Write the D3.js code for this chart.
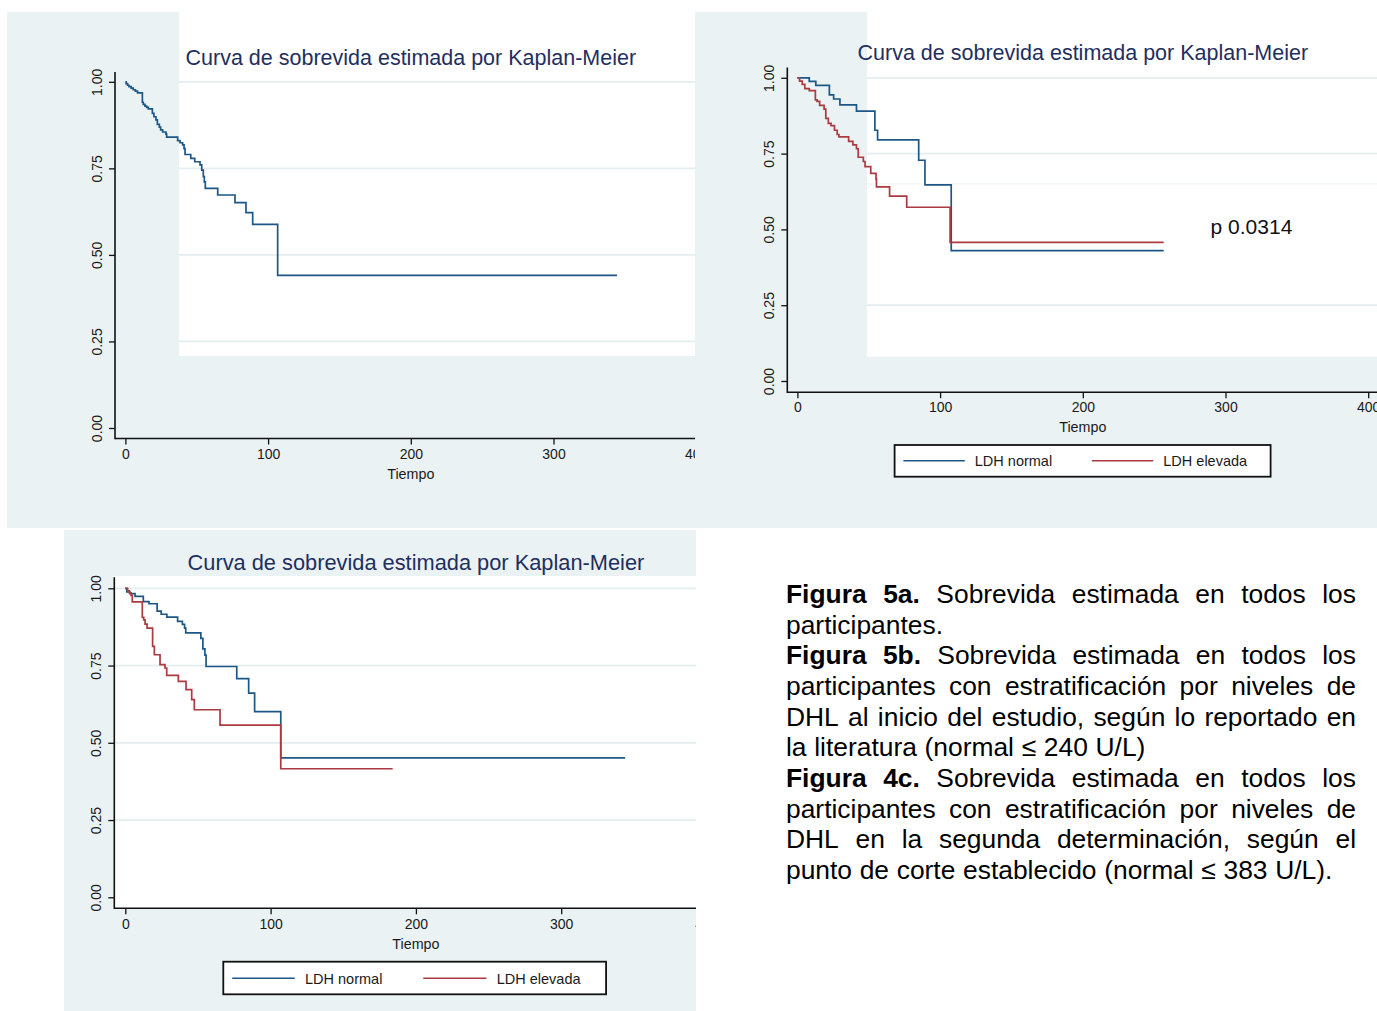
<!DOCTYPE html>
<html>
<head>
<meta charset="utf-8">
<script src="https://cdn.jsdelivr.net/npm/d3@7"></script>
<style>
  body { margin: 0; background: #fff; }
  svg { display: block; }
  text { font-family: "Liberation Sans", Arial, Helvetica, sans-serif; }
</style>
</head>
<body>
<svg id="fig" width="1377" height="1011"></svg>
<script>
// ---- axis ticks and labels ----
const xTickValues = [0, 100, 200, 300, 400];
const yTickValues = [0, 0.25, 0.5, 0.75, 1];
const yTickLabels = ["0.00", "0.25", "0.50", "0.75", "1.00"];
const chartTitle = "Curva de sobrevida estimada por Kaplan-Meier";
const xAxisTitle = "Tiempo";
const groupNames = ["LDH normal", "LDH elevada"];
const pValueText = "p 0.0314";

// ---- Kaplan-Meier estimates: event times and survival after each event ----
// 5a: all participants
const allTimes = [0.5, 1.5, 2.5, 4, 5.5, 7, 8.5, 11.9, 12.5, 13.7, 14.9, 16.1, 18.9, 20, 21.4, 22.4, 23.8, 24.7, 26.1, 28.4, 28.9,
  36.6, 38.3, 40.1, 41.1, 41.8, 45.8, 48.6, 52.3, 53.5, 54.6, 55.3, 56, 64.7, 76.8, 84.5, 89.2, 106.7];
const allSurv = [0.995, 0.99, 0.986, 0.982, 0.977, 0.973, 0.968, 0.941, 0.935, 0.930, 0.926, 0.922, 0.909, 0.899, 0.890, 0.877, 0.869, 0.861, 0.855, 0.849, 0.840,
  0.830, 0.824, 0.818, 0.807, 0.790, 0.779, 0.769, 0.760, 0.745, 0.726, 0.711, 0.692, 0.673, 0.651, 0.622, 0.588, 0.441];
const allLastTime = 344.5;

// 5b: LDH at baseline (normal <= 240 U/L)
const baseNormalTimes = [8.3, 12.9, 22.4, 25.4, 29.8, 41.4, 54.3, 56.2, 85, 89.4, 107.8];
const baseNormalSurv = [0.988, 0.975, 0.944, 0.930, 0.911, 0.890, 0.827, 0.795, 0.728, 0.647, 0.430];
const baseNormalLast = 256.7;
const baseHighTimes = [1.5, 3.4, 5.2, 8.3, 12.6, 13.8, 15.6, 18.7, 19.9, 21.7, 23.6, 26, 27.9, 29.1, 35.9, 38.9, 41.4, 42.6,
  46.2, 47.4, 51.4, 55.1, 55.4, 64.6, 76.6, 107];
const baseHighSurv = [0.989, 0.978, 0.964, 0.958, 0.927, 0.922, 0.909, 0.897, 0.866, 0.850, 0.842, 0.827, 0.813, 0.805, 0.790, 0.779, 0.766, 0.738,
  0.724, 0.707, 0.685, 0.666, 0.640, 0.610, 0.573, 0.457];
const baseHighLast = 256.7;

// 4c: LDH at second measurement (normal <= 383 U/L)
const secondNormalTimes = [1, 3.2, 6.7, 12.4, 16.3, 21.9, 24.7, 28.6, 36, 39.3, 40.8, 41.6, 52, 53.4, 54.8, 55.6, 76.7, 84.9, 89, 107];
const secondNormalSurv = [0.988, 0.983, 0.974, 0.957, 0.950, 0.926, 0.916, 0.907, 0.893, 0.883, 0.871, 0.856, 0.838, 0.804, 0.784, 0.747, 0.708, 0.661, 0.601, 0.451];
const secondNormalLast = 344;
const secondHighTimes = [1.6, 2.8, 3.9, 4.8, 11.7, 12.7, 13.6, 15, 18.8, 20, 23.9, 27.3, 28.5, 36.5, 41.8, 45.7, 47.5, 65.2, 107];
const secondHighSurv = [0.992, 0.985, 0.977, 0.956, 0.906, 0.898, 0.884, 0.871, 0.812, 0.785, 0.753, 0.742, 0.718, 0.699, 0.672, 0.640, 0.607, 0.557, 0.416];
const secondHighLast = 184;

// ---- caption ----
const captionLines = [
  "**Figura 5a.** Sobrevida estimada en todos los",
  "participantes.",
  "**Figura 5b.** Sobrevida estimada en todos los",
  "participantes con estratificación por niveles de",
  "DHL al inicio del estudio, según lo reportado en",
  "la literatura (normal ≤ 240 U/L)",
  "**Figura 4c.** Sobrevida estimada en todos los",
  "participantes con estratificación por niveles de",
  "DHL en la segunda determinación, según el",
  "punto de corte establecido (normal ≤ 383 U/L)."
];
const captionJustify = [true, false, true, true, true, false, true, true, true, false];

// ---- styling ----
const BG = "#eaf2f3";
const GRID = "#e4edef";
const BLUE = "#1d5786";
const RED = "#ab3a41";
const TITLE_COLOR = "#1f2f5e";

const svg = d3.select("#fig");
svg.append("rect").attr("width", 1377).attr("height", 1011).attr("fill", "#fff");

const panels = [
  {
    id: "a",
    bg: { x: 7, y: 12, w: 688, h: 516 },
    white: { x: 179, y: 12, w: 516, h: 344 },
    xr: [125.4, 696.2], yr: [428, 81.8],
    axisX: 115, axisTop: 72, axisY: 438.5,
    titleBase: 64.5, titleSize: 21.5, tickBase: 459, xTitleBase: 479,
    grid: [1, 0.75, 0.5, 0.25], faint: [],
    series: [{ t: allTimes, s: allSurv, last: allLastTime, color: BLUE }],
    legend: null
  },
  {
    id: "b",
    bg: { x: 695, y: 12, w: 682, h: 516 },
    white: { x: 867, y: 12, w: 510, h: 344.7 },
    xr: [797.4, 1368.2], yr: [381, 77.8],
    axisX: 787.3, axisTop: 67.6, axisY: 392.2,
    titleBase: 59.5, titleSize: 21.5, tickBase: 412.5, xTitleBase: 431.5,
    grid: [1, 0.75, 0.25], faint: [0.65],
    series: [
      { t: baseNormalTimes, s: baseNormalSurv, last: baseNormalLast, color: BLUE },
      { t: baseHighTimes, s: baseHighSurv, last: baseHighLast, color: RED }
    ],
    legend: { x: 894.6, y: 445, w: 376, h: 31.7, lineY: 460.8,
      items: [{ x1: 903.4, x2: 964.8, tx: 974.8 }, { x1: 1091.8, x2: 1153.2, tx: 1163.3 }] },
    pValue: { x: 1210.6, y: 234 }
  },
  {
    id: "c",
    bg: { x: 64, y: 530, w: 632, h: 481 },
    white: { x: 114.3, y: 576, w: 581.7, h: 332.3 },
    xr: [125.3, 706.5], yr: [897.3, 588.3],
    axisX: 114.3, axisTop: 577.3, axisY: 908.3,
    titleBase: 569.5, titleSize: 21.8, tickBase: 929, xTitleBase: 949,
    grid: [1, 0.75, 0.5, 0.25], faint: [],
    series: [
      { t: secondNormalTimes, s: secondNormalSurv, last: secondNormalLast, color: BLUE },
      { t: secondHighTimes, s: secondHighSurv, last: secondHighLast, color: RED }
    ],
    legend: { x: 223.3, y: 961.7, w: 382.8, h: 32.6, lineY: 978.3,
      items: [{ x1: 232.2, x2: 294.7, tx: 305 }, { x1: 423.3, x2: 486.5, tx: 496.7 }] }
  }
];

const defs = svg.append("defs");

panels.forEach(p => {
  defs.append("clipPath").attr("id", "clip-" + p.id)
    .append("rect").attr("x", p.bg.x).attr("y", p.bg.y).attr("width", p.bg.w).attr("height", p.bg.h);
  defs.append("clipPath").attr("id", "clipw-" + p.id)
    .append("rect").attr("x", p.white.x).attr("y", p.white.y).attr("width", p.white.w).attr("height", p.white.h);

  const g = svg.append("g").attr("clip-path", `url(#clip-${p.id})`);
  const x = d3.scaleLinear().domain([0, 400]).range(p.xr);
  const y = d3.scaleLinear().domain([0, 1]).range(p.yr);

  // backgrounds
  g.append("rect").attr("x", p.bg.x).attr("y", p.bg.y).attr("width", p.bg.w).attr("height", p.bg.h).attr("fill", BG);
  g.append("rect").attr("x", p.white.x).attr("y", p.white.y).attr("width", p.white.w).attr("height", p.white.h).attr("fill", "#fff");

  // grid lines inside the white plot area
  const gg = g.append("g").attr("clip-path", `url(#clipw-${p.id})`);
  gg.selectAll("line.grid").data(p.grid).join("line")
    .attr("x1", p.white.x).attr("x2", p.white.x + p.white.w)
    .attr("y1", d => y(d)).attr("y2", d => y(d))
    .attr("stroke", GRID).attr("stroke-width", 1.8);
  gg.selectAll("line.faint").data(p.faint).join("line")
    .attr("x1", p.white.x).attr("x2", p.white.x + p.white.w)
    .attr("y1", d => y(d)).attr("y2", d => y(d))
    .attr("stroke", "#f1f5f6").attr("stroke-width", 1.2);

  // title
  g.append("text").attr("x", (p.xr[0] + p.xr[1]) / 2).attr("y", p.titleBase)
    .attr("text-anchor", "middle").attr("font-size", p.titleSize).attr("fill", TITLE_COLOR)
    .text(chartTitle);

  // survival step curves
  const line = d3.line().x(d => x(d[0])).y(d => y(d[1])).curve(d3.curveStepAfter);
  p.series.forEach(sr => {
    const pts = [[0, 1]];
    sr.t.forEach((t, i) => pts.push([t, sr.s[i]]));
    pts.push([sr.last, sr.s[sr.s.length - 1]]);
    g.append("path").attr("d", line(pts)).attr("fill", "none")
      .attr("stroke", sr.color).attr("stroke-width", 1.7).attr("stroke-linejoin", "miter");
  });

  // y axis
  const yAxis = d3.axisLeft(y).tickValues(yTickValues)
    .tickFormat((d, i) => yTickLabels[i]).tickSize(6).tickSizeOuter(0);
  const ya = g.append("g").attr("transform", `translate(${p.axisX},0)`).call(yAxis);
  ya.select(".domain").remove();
  ya.selectAll(".tick line").attr("stroke", "#111").attr("stroke-width", 1.3);
  ya.selectAll(".tick text")
    .attr("x", null).attr("dy", null)
    .attr("text-anchor", "middle")
    .attr("transform", "translate(-13.5,0) rotate(-90)")
    .attr("font-size", 14).attr("fill", "#1a1a1a")
    .style("font-family", '"Liberation Sans", Arial, sans-serif');

  // x axis
  const xAxis = d3.axisBottom(x).tickValues(xTickValues).tickFormat(d3.format("d")).tickSize(6).tickSizeOuter(0);
  const xa = g.append("g").attr("transform", `translate(0,${p.axisY})`).call(xAxis);
  xa.select(".domain").remove();
  xa.selectAll(".tick line").attr("stroke", "#111").attr("stroke-width", 1.3);
  xa.selectAll(".tick text")
    .attr("dy", null).attr("y", p.tickBase - p.axisY)
    .attr("font-size", 14).attr("fill", "#1a1a1a")
    .style("font-family", '"Liberation Sans", Arial, sans-serif');

  // axis lines
  g.append("line").attr("x1", p.axisX).attr("x2", p.axisX).attr("y1", p.axisTop).attr("y2", p.axisY + 0.75)
    .attr("stroke", "#111").attr("stroke-width", 1.6);
  g.append("line").attr("x1", p.axisX).attr("x2", p.bg.x + p.bg.w).attr("y1", p.axisY).attr("y2", p.axisY)
    .attr("stroke", "#111").attr("stroke-width", 1.6);

  g.append("text").attr("x", (p.xr[0] + p.xr[1]) / 2).attr("y", p.xTitleBase)
    .attr("text-anchor", "middle").attr("font-size", 14.3).attr("fill", "#1a1a1a").text(xAxisTitle);

  // legend
  if (p.legend) {
    const L = p.legend;
    g.append("rect").attr("x", L.x).attr("y", L.y).attr("width", L.w).attr("height", L.h)
      .attr("fill", "#fff").attr("stroke", "#111").attr("stroke-width", 1.8);
    L.items.forEach((it, i) => {
      g.append("line").attr("x1", it.x1).attr("x2", it.x2).attr("y1", L.lineY).attr("y2", L.lineY)
        .attr("stroke", p.series[i].color).attr("stroke-width", 1.6);
      g.append("text").attr("x", it.tx).attr("y", L.lineY + 5.2).attr("font-size", 14.5)
        .attr("fill", "#1a1a1a").text(groupNames[i]);
    });
  }

  if (p.pValue) {
    g.append("text").attr("x", p.pValue.x).attr("y", p.pValue.y).attr("font-size", 21)
      .attr("fill", "#111").text(pValueText);
  }
});

// ---- justified caption block ----
const cap = { left: 786, right: 1356, base: 603, step: 30.65, size: 26.4 };
function parseWords(line) {
  let bold = false;
  return line.split(" ").map(w => {
    let b = bold;
    if (w.startsWith("**")) { w = w.slice(2); b = true; bold = true; }
    if (w.endsWith("**")) { w = w.slice(0, -2); bold = false; }
    return { w, b };
  });
}
const capG = svg.append("g");
captionLines.forEach((ln, li) => {
  const words = parseWords(ln);
  const by = cap.base + li * cap.step;
  const nodes = words.map(wd => capG.append("text")
    .attr("y", by).attr("font-size", cap.size).attr("fill", "#000")
    .attr("font-weight", wd.b ? "bold" : "normal").text(wd.w));
  const widths = nodes.map(n => n.node().getComputedTextLength());
  const total = d3.sum(widths);
  const gap = captionJustify[li] && words.length > 1
    ? (cap.right - cap.left - total) / (words.length - 1)
    : cap.size * 0.29;
  let cx = cap.left;
  nodes.forEach((n, i) => { n.attr("x", cx); cx += widths[i] + gap; });
});
</script>
</body>
</html>
